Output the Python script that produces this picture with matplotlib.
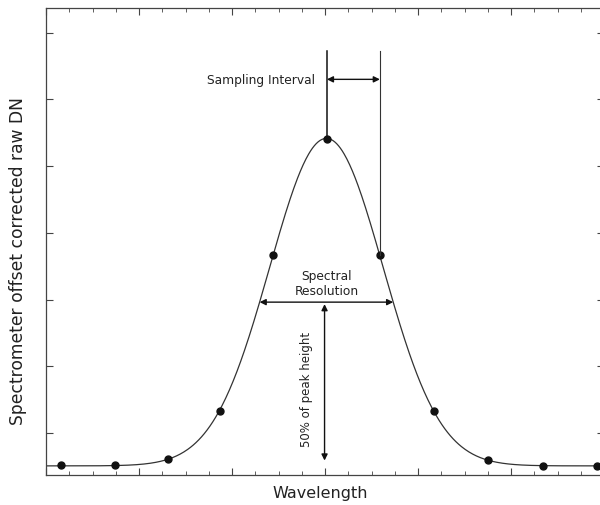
import numpy as np
import matplotlib
matplotlib.use('Agg')
import matplotlib.pyplot as plt
from matplotlib.ticker import MultipleLocator, NullFormatter

wavelength = [0.16, 0.74, 1.31, 1.87, 2.44, 3.02, 3.59, 4.17, 4.75, 5.34, 5.92]
raw_dn = [0.15, 0.15, 0.24, 0.96, 3.29, 5.04, 3.29, 0.96, 0.22, 0.13, 0.13]

x = np.array(wavelength)
y = np.array(raw_dn)

# gaussian + offset fitted to the samples (grid search, linear LS for amp/offset)
best = None
for c in np.linspace(2.8, 3.2, 81):
    for s in np.linspace(0.4, 0.8, 161):
        g = np.exp(-(x - c) ** 2 / (2 * s ** 2))
        M = np.column_stack([g, np.ones_like(g)])
        coef, res, _, _ = np.linalg.lstsq(M, y, rcond=None)
        err = np.sum((M @ coef - y) ** 2)
        if best is None or err < best[0]:
            best = (err, c, s, coef[0], coef[1])
_, cen, sig, amp, base = best

xf = np.linspace(0, 6, 600)
yf = amp * np.exp(-(xf - cen) ** 2 / (2 * sig ** 2)) + base

half = base + amp / 2
hw = sig * np.sqrt(2 * np.log(2))

fig = plt.figure(figsize=(6, 5.06), dpi=100)
ax = fig.add_axes([0.0767, 0.0593, 0.93, 0.923])

lc = '#333333'
ax.plot(xf, yf, color=lc, lw=0.9)
ax.plot(x, y, 'o', color='#111111', ms=5)

# sampling interval
i_pk = int(np.argmax(y))
top = 6.35
ax.plot([x[i_pk], x[i_pk]], [y[i_pk], top], color='#111111', lw=1.1)
ax.plot([x[i_pk + 1], x[i_pk + 1]], [y[i_pk + 1], top], color='#333333', lw=0.8)
ax.annotate('', xy=(x[i_pk], 5.93), xytext=(x[i_pk + 1], 5.93),
            arrowprops=dict(arrowstyle='<|-|>', color='#111111', lw=1.0,
                            shrinkA=0, shrinkB=0, mutation_scale=9))
ax.text(x[i_pk] - 0.13, 5.93, 'Sampling Interval', ha='right', va='center',
        fontsize=8.8, color='#222222')

# spectral resolution (FWHM)
ax.annotate('', xy=(cen - hw, half), xytext=(cen + hw, half),
            arrowprops=dict(arrowstyle='<|-|>', color='#111111', lw=1.0,
                            shrinkA=0, shrinkB=0, mutation_scale=9))
ax.text(cen, half + 0.29, 'Spectral\nResolution', ha='center', va='center',
        fontsize=8.8, color='#222222', linespacing=1.15)

# 50% of peak height
xv = cen - 0.02
ax.annotate('', xy=(xv, half - 0.03), xytext=(xv, base + 0.08),
            arrowprops=dict(arrowstyle='<|-|>', color='#111111', lw=1.0,
                            shrinkA=0, shrinkB=0, mutation_scale=9))
ax.text(xv - 0.19, 1.3, '50% of peak height', rotation=90,
        ha='center', va='center', fontsize=8.5, color='#222222')

ax.set_xlim(0, 6)
ax.set_ylim(0, 7)
ax.xaxis.set_major_locator(MultipleLocator(1))
ax.xaxis.set_minor_locator(MultipleLocator(0.25))
ax.set_yticks(np.arange(0.63, 7, 1.0))
ax.xaxis.set_major_formatter(NullFormatter())
ax.yaxis.set_major_formatter(NullFormatter())
ax.tick_params(which='both', direction='in', top=True, right=True, color='#444444')
ax.tick_params(which='major', length=5, width=0.8)
ax.tick_params(which='minor', length=3, width=0.6)
for sp in ax.spines.values():
    sp.set_color('#444444')
    sp.set_linewidth(0.9)

ax.set_xlabel('Wavelength', fontsize=11.5, color='#222222')
ax.set_ylabel('Spectrometer offset corrected raw DN', fontsize=12.3,
              color='#222222')
ax.xaxis.set_label_coords(0.491, -0.022)
ax.yaxis.set_label_coords(-0.034, 0.46)

fig.savefig('out.png', dpi=100)
